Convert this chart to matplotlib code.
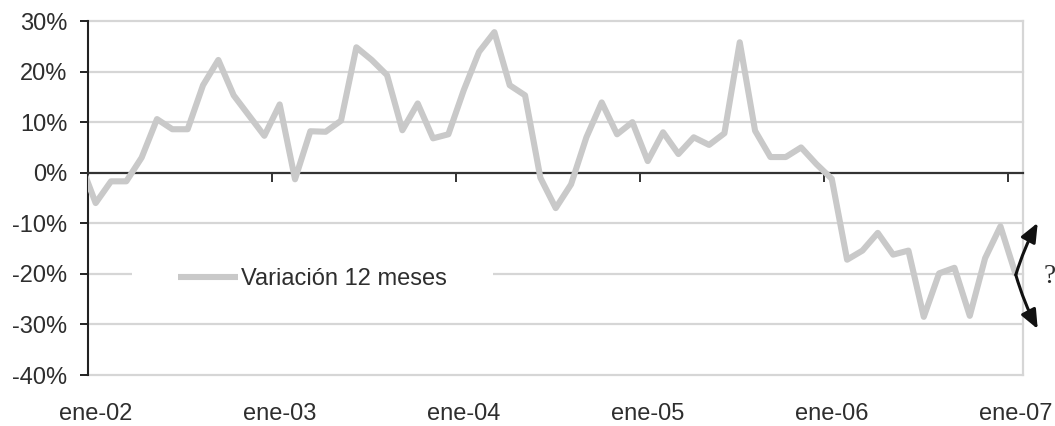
import numpy as np
import matplotlib
matplotlib.use("Agg")
import matplotlib.pyplot as plt
from matplotlib.patches import Rectangle

plt.rcParams['font.family'] = ['Liberation Sans', 'DejaVu Sans']

# Month abbreviations (Spanish) and the monthly categories dic-01 .. ene-07
MESES = ["ene", "feb", "mar", "abr", "may", "jun",
         "jul", "ago", "sep", "oct", "nov", "dic"]
categorias = (["dic-01"]
              + [f"{m}-{a:02d}" for a in range(2, 7) for m in MESES]
              + ["ene-07"])

# 12-month variation, in percent
variacion = [
    2.0,
    -6.0, -1.7, -1.7, 3.0, 10.6, 8.6, 8.6, 17.3, 22.3, 15.3, 11.3, 7.3,
    13.5, -1.3, 8.2, 8.1, 10.3, 24.8, 22.3, 19.3, 8.4, 13.7, 6.8, 7.6,
    16.3, 23.9, 27.8, 17.3, 15.3, -1.0, -7.0, -2.3, 7.0, 13.9, 7.6, 10.0,
    2.3, 8.0, 3.7, 7.0, 5.5, 7.8, 25.8, 8.3, 3.1, 3.1, 5.0, 1.7,
    -1.2, -17.2, -15.4, -11.9, -16.2, -15.4, -28.5, -19.9, -18.8, -28.3, -16.9, -10.6,
    -20.2,
]
serie = "Variación 12 meses"
y_ticks = [30, 20, 10, 0, -10, -20, -30, -40]

TEXT = "#2e2e2e"
LINE = "#c9c9c9"
GRID = "#d6d6d6"
FS = 17

# position 0 = ene-02 (dic-01 sits just left of the axis and is clipped)
pos = np.arange(len(categorias)) - 1
etiquetas = [(p, c) for p, c in zip(pos, categorias) if c.startswith("ene")]

fig = plt.figure(figsize=(10.55, 4.26), dpi=100)
ax = fig.add_axes([0.0834, 0.1197, 0.8867, 0.831])

ax.set_xlim(-0.5, pos[-1] + 0.5)
ax.set_ylim(min(y_ticks), max(y_ticks))

# horizontal gridlines
for yv in y_ticks:
    if yv != 0:
        ax.axhline(yv, color=GRID, lw=1.6, zorder=0.5, clip_on=False)

ax.plot(pos, variacion, color=LINE, lw=4.4, solid_joinstyle="round",
        solid_capstyle="butt", zorder=3, label=serie)

# spines
ax.spines["top"].set_visible(False)
ax.spines["right"].set_color(GRID)
ax.spines["right"].set_linewidth(1.6)
ax.spines["left"].set_color("#222222")
ax.spines["left"].set_linewidth(1.5)
ax.spines["bottom"].set_position(("data", 0))
ax.spines["bottom"].set_color("#333333")
ax.spines["bottom"].set_linewidth(1.6)
ax.spines["bottom"].set_zorder(2.5)

# y axis
ax.set_yticks(y_ticks)
ax.set_yticklabels([f"{v}%" for v in y_ticks])
ax.tick_params(axis="y", direction="out", length=6, width=1.4,
               color="#222222", labelcolor=TEXT, labelsize=FS, pad=9)

# x axis: tick marks between years on the zero line
ax.set_xticks([p - 0.5 for p, _ in etiquetas])
ax.tick_params(axis="x", direction="out", length=6.5, width=1.4,
               color="#333333", labelbottom=False)

# year labels along the bottom of the plot area
sec = ax.secondary_xaxis("bottom")
sec.set_xticks([p for p, _ in etiquetas])
sec.set_xticklabels([c for _, c in etiquetas])
sec.spines["bottom"].set_visible(False)
sec.tick_params(axis="x", length=0, labelsize=FS, labelcolor=TEXT, pad=20)

# legend sitting on the -20% gridline
ax.add_patch(Rectangle((0.047, 0.255), 0.386, 0.06, transform=ax.transAxes,
                       facecolor="white", edgecolor="none", zorder=1))
ax.legend(loc="center left", bbox_to_anchor=(0.0962, 0.271), frameon=False,
          borderpad=0, borderaxespad=0, handlelength=2.55, handletextpad=0.14,
          prop={"size": FS}, labelcolor=TEXT)

# double arrow with question mark at the end of the series
x_fin, y_fin = pos[-1], variacion[-1]
for off, rad in [((15.8, 37.5), 0.05), ((15.8, -39.0), -0.05)]:
    ax.annotate("", xy=(x_fin, y_fin), xytext=off, textcoords="offset points",
                arrowprops=dict(arrowstyle="<|-,head_width=0.4,head_length=0.95",
                                color="#111111", lw=2.2, shrinkA=0, shrinkB=0,
                                mutation_scale=12,
                                connectionstyle=f"arc3,rad={rad}"),
                annotation_clip=False)
ax.annotate("?", xy=(x_fin, y_fin), xytext=(20, -1), textcoords="offset points",
            ha="left", va="center", fontsize=19.5, color=TEXT,
            family=["Liberation Serif", "DejaVu Serif"], annotation_clip=False)

fig.savefig("out.png", dpi=100)
